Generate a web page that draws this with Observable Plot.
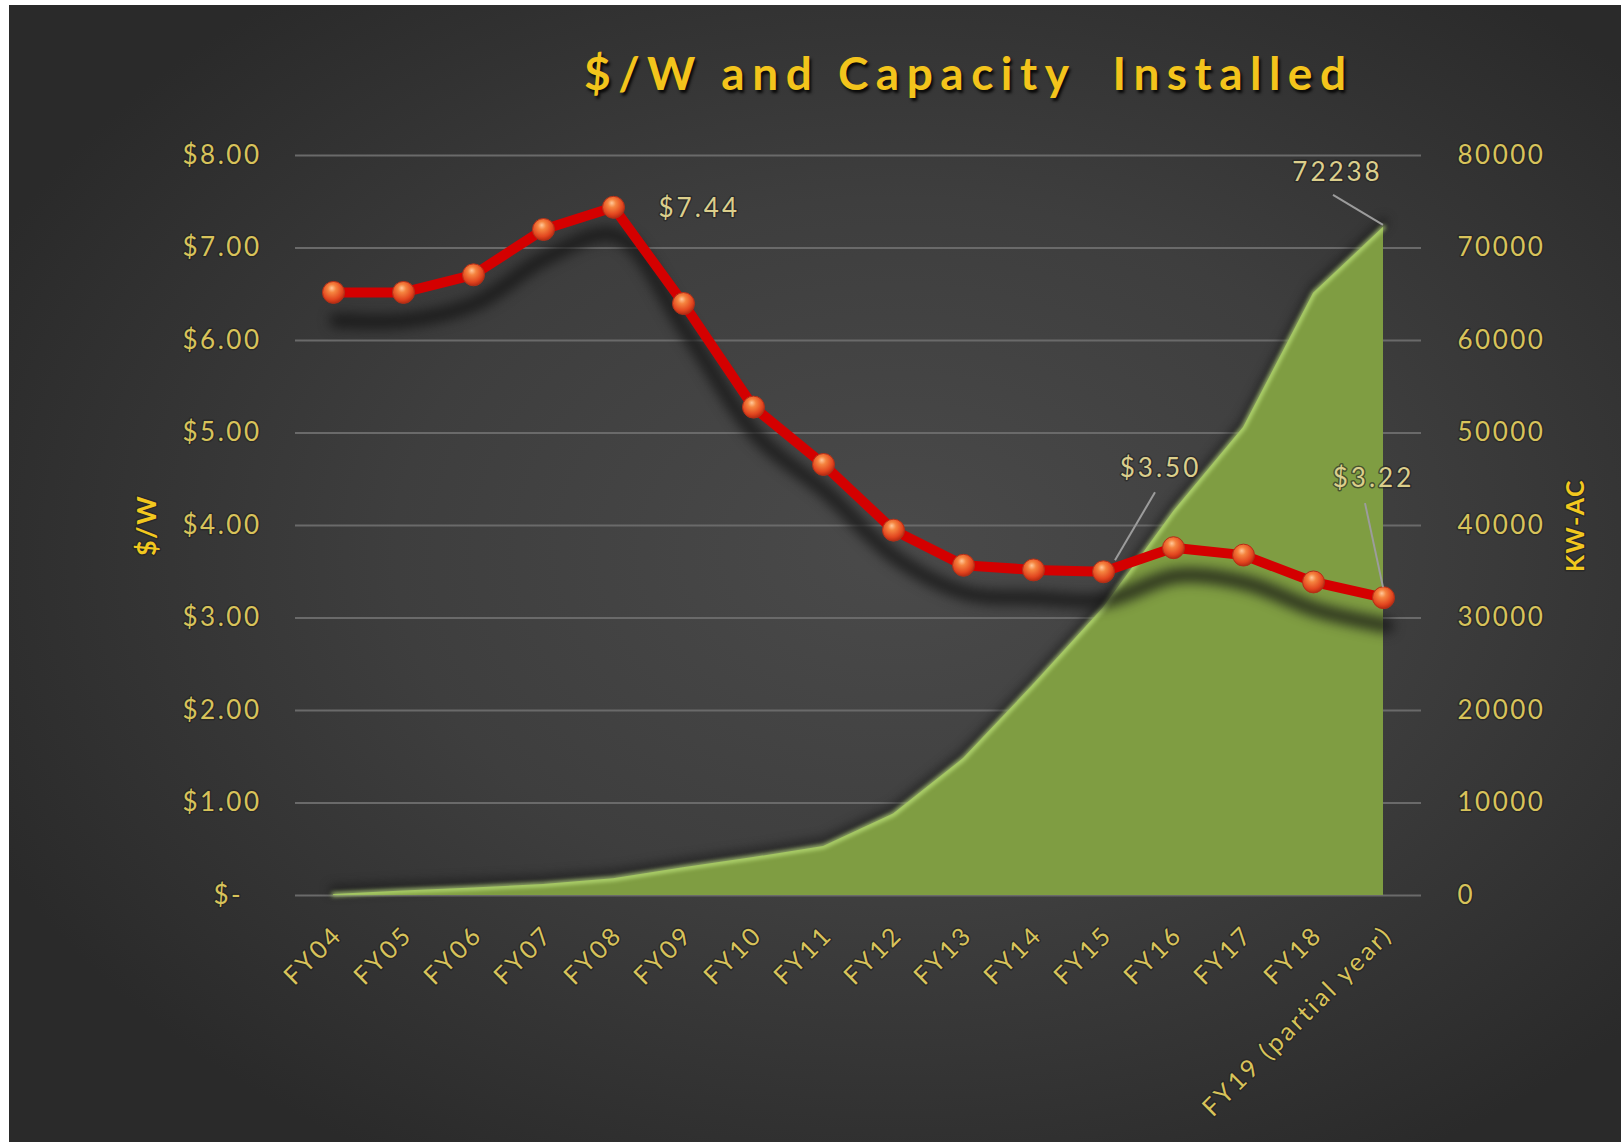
<!DOCTYPE html>
<html><head><meta charset="utf-8">
<script src="https://cdn.jsdelivr.net/npm/d3@7"></script>
<script src="https://cdn.jsdelivr.net/npm/@observablehq/plot@0.6"></script>
<style>
html,body{margin:0;padding:0;background:#fff;width:1621px;height:1142px;overflow:hidden;}
#frame{position:absolute;left:9px;top:5px;width:1612px;height:1137px;overflow:hidden;
  background: radial-gradient(ellipse 62% 62% at 55% 48%, #4a4a4a 0%, #3e3e3e 50%, #2a2a2a 100%);}
#title{position:absolute;left:575px;top:43px;font-family:Lato,"Open Sans",sans-serif;font-weight:700;font-size:46px;line-height:50px;color:#f3c41c;letter-spacing:7.5px;word-spacing:0px;white-space:pre;text-shadow:2px 3px 3px rgba(0,0,0,0.85);}
#chart{position:absolute;left:0;top:120px;}
g[aria-description="tick-left"] text, g[aria-description="tick-right"] text{letter-spacing:2.5px;}
g[aria-description="tick-x"] text{letter-spacing:3px;}
g[aria-description="axis-title"] text{letter-spacing:1.5px;}
g[aria-description="data-label"] text{letter-spacing:3px;}
</style></head>
<body><div id="frame"><div id="title">$/W and Capacity  Installed</div><div id="chart"></div></div>
<script>
// ---- data ----
const years = ["FY04","FY05","FY06","FY07","FY08","FY09","FY10","FY11","FY12","FY13","FY14","FY15","FY16","FY17","FY18","FY19 (partial year)"];
const pricePerWatt = [6.52,6.52,6.71,7.20,7.44,6.40,5.28,4.66,3.95,3.57,3.52,3.50,3.76,3.68,3.39,3.22];
const capacityKW = [100,500,800,1200,1800,3000,4100,5300,8800,14800,22800,31100,41500,50600,65100,72238];
const priceTicks = [0,1,2,3,4,5,6,7,8];
const capacityTicks = [0,10000,20000,30000,40000,50000,60000,70000,80000];
const leftTitle = "$/W";
const rightTitle = "KW-AC";

const rows = years.map((year, i) => ({year, price: pricePerWatt[i], cap: capacityKW[i]}));
const ratio = capacityTicks[capacityTicks.length-1] / priceTicks[priceTicks.length-1];
const capY = d => d.cap / ratio;
const priceFmt = v => v === 0 ? "$-\u00a0\u00a0" : "$" + v.toFixed(2);
const last = rows[rows.length-1];
const byYear = y => rows.filter(d => d.year === y);

const tickColor = "#d8c35a";
const halo = {stroke:"#222", strokeWidth:3, strokeOpacity:0.6};

function leader(row, yAcc, from, to) {
  return (index, scales) => {
    const px = scales.x(row.year), py = scales.y(yAcc(row));
    return d3.create("svg:line")
      .attr("x1", px + from[0]).attr("y1", py + from[1])
      .attr("x2", px + to[0]).attr("y2", py + to[1])
      .attr("stroke", "#9c9c9c").attr("stroke-width", 2).node();
  };
}

const svg = Plot.plot({
  width: 1612, height: 1017,
  marginLeft: 286, marginRight: 200, marginTop: 30, marginBottom: 247,
  style: {background: "transparent", fontFamily: "Lato, 'Open Sans', sans-serif", overflow: "visible"},
  x: {type: "point", domain: years, padding: 0.5, axis: null},
  y: {domain: [0, 8], axis: null},
  marks: [
    Plot.ruleY(priceTicks, {stroke: "#6a6a6a", strokeWidth: 2}),
    Plot.lineY(rows, {x: "year", y: capY, stroke: "#151515", strokeWidth: 10, dy: -5, strokeOpacity: 0.55, ariaDescription: "area-shadow"}),
    Plot.areaY(rows, {x: "year", y: capY, fill: "#7f9d42"}),
    Plot.lineY(rows, {x: "year", y: capY, stroke: "#c9f084", strokeWidth: 4, strokeOpacity: 0.8, ariaDescription: "area-glow"}),
    Plot.lineY(rows, {x: "year", y: "price", curve: "catmull-rom", stroke: "#141414", strokeWidth: 15, dy: 28, dx: 3, strokeOpacity: 0.75, ariaDescription: "price-shadow"}),
    Plot.lineY(rows, {x: "year", y: "price", stroke: "#d40000", strokeWidth: 10, strokeLinejoin: "round"}),
    Plot.dot(rows, {x: "year", y: "price", r: 11, fill: "url(#ball)", stroke: "#b33018", strokeWidth: 1}),
    // left tick labels
    Plot.text(priceTicks, {y: d => d, frameAnchor: "left", text: priceFmt, textAnchor: "end", dx: -34, fontSize: 26, fill: tickColor, ...halo, ariaDescription: "tick-left"}),
    // right tick labels
    Plot.text(capacityTicks, {y: d => d / ratio, frameAnchor: "right", text: d => String(d), textAnchor: "start", dx: 36, fontSize: 26, fill: tickColor, ...halo, ariaDescription: "tick-right"}),
    // x tick labels
    Plot.text(years, {x: d => d, frameAnchor: "bottom", text: d => d, rotate: -45, textAnchor: "end", lineAnchor: "middle", dy: 35, dx: 5, fontSize: 25, fill: tickColor, ...halo, ariaDescription: "tick-x"}),
    // axis titles
    Plot.text([leftTitle], {frameAnchor: "left", text: d => d, rotate: -90, textAnchor: "middle", dx: -148, fontSize: 27, fontWeight: "bold", fill: "#f2c81e", ...halo, ariaDescription: "axis-title"}),
    Plot.text([rightTitle], {frameAnchor: "right", text: d => d, rotate: -90, textAnchor: "middle", dx: 154, fontSize: 25, fontWeight: "bold", fill: "#f2c81e", ...halo, ariaDescription: "axis-title"}),
    // leaders
    leader(last, capY, [0, -2], [-50, -32]),
    leader(byYear("FY15")[0], d => d.price, [12, -11], [52, -79]),
    leader(last, d => d.price, [0, -10], [-18, -94]),
    // data labels
    Plot.text(byYear("FY08"), {x: "year", y: "price", text: d => "$" + d.price.toFixed(2), textAnchor: "start", dx: 45, dy: 1, fontSize: 26, fill: "#dccf8c", ...halo, ariaDescription: "data-label"}),
    Plot.text([last], {x: "year", y: capY, text: d => String(d.cap), dx: -46, dy: -55, fontSize: 26, fill: "#dccf8c", ...halo, ariaDescription: "data-label"}),
    Plot.text(byYear("FY15"), {x: "year", y: "price", text: d => "$" + d.price.toFixed(2), dx: 57, dy: -103, fontSize: 26, fill: "#dccf8c", ...halo, ariaDescription: "data-label"}),
    Plot.text([last], {x: "year", y: "price", text: d => "$" + d.price.toFixed(2), dx: -10, dy: -119, fontSize: 26, fill: "#dccf8c", ...halo, ariaDescription: "data-label"})
  ]
});

const s = d3.select(svg);
const defs = s.insert("defs", ":first-child");
const g = defs.append("radialGradient").attr("id", "ball").attr("cx", "45%").attr("cy", "38%").attr("r", "62%").attr("fx", "42%").attr("fy", "30%");
[["0%", "#ffc89a"], ["30%", "#f5843f"], ["75%", "#e2461f"], ["100%", "#b52a12"]].forEach(([o, c]) => g.append("stop").attr("offset", o).attr("stop-color", c));
s.select('g[aria-description="price-shadow"]').style("filter", "blur(6px)");
s.select('g[aria-description="area-shadow"]').style("filter", "blur(5px)");
s.select('g[aria-description="area-glow"]').style("filter", "blur(2px)");
document.getElementById("chart").appendChild(svg);
</script>
</body></html>
